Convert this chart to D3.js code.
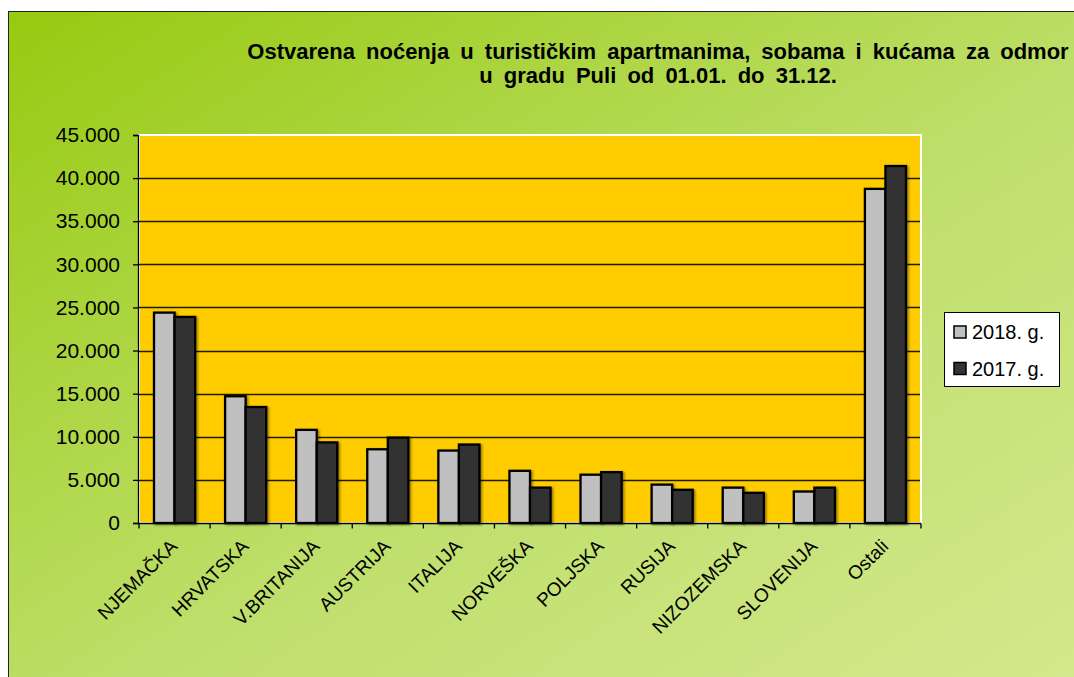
<!DOCTYPE html>
<html>
<head>
<meta charset="utf-8">
<script src="https://cdn.jsdelivr.net/npm/d3@7"></script>
<style>
  body { margin: 0; background: #fff; }
  text { font-family: "Liberation Sans", Arial, sans-serif; fill: #000; }
</style>
</head>
<body>
<div id="chart"></div>
<script>
const width = 1074;
const height = 677;

// data
const categories = ["NJEMAČKA", "HRVATSKA", "V.BRITANIJA", "AUSTRIJA", "ITALIJA", "NORVEŠKA",
  "POLJSKA", "RUSIJA", "NIZOZEMSKA", "SLOVENIJA", "Ostali"];
const series = ["2018. g.", "2017. g."];
const values2018 = [24400, 14700, 10800, 8550, 8400, 6050, 5600, 4450, 4100, 3650, 38750];
const values2017 = [23900, 13450, 9350, 9900, 9100, 4100, 5900, 3850, 3500, 4100, 41400];
const yTicks = [0, 5000, 10000, 15000, 20000, 25000, 30000, 35000, 40000, 45000];
const titleLines = ["Ostvarena noćenja u turističkim apartmanima, sobama i kućama za odmor",
  "u gradu Puli od 01.01. do 31.12."];

const colors = { "2018. g.": "#c0c0c0", "2017. g.": "#333333" };

const rows = categories.map((c, i) => ({ cat: c, "2018. g.": values2018[i], "2017. g.": values2017[i] }));

const locale = d3.formatLocale({ decimal: ",", thousands: ".", grouping: [3], currency: ["", ""] });
const fmt = locale.format(",d");

const svg = d3.select("#chart").append("svg")
  .attr("width", width)
  .attr("height", height);

const defs = svg.append("defs");
const grad = defs.append("linearGradient")
  .attr("id", "bg")
  .attr("x1", "0").attr("y1", "0").attr("x2", "1").attr("y2", "1");
grad.append("stop").attr("offset", "0%").attr("stop-color", "#97ca10");
grad.append("stop").attr("offset", "55%").attr("stop-color", "#bfdf6c");
grad.append("stop").attr("offset", "100%").attr("stop-color", "#d4e98e");

const shadow = defs.append("filter").attr("id", "shadow")
  .attr("x", "-20%").attr("y", "-5%").attr("width", "150%").attr("height", "120%");
shadow.append("feDropShadow")
  .attr("dx", 1.5).attr("dy", 1).attr("stdDeviation", 0.8)
  .attr("flood-color", "#000").attr("flood-opacity", 0.45);

// chart frame
svg.append("rect")
  .attr("x", 8.5).attr("y", 11.5)
  .attr("width", 1080).attr("height", 690)
  .attr("fill", "url(#bg)")
  .attr("stroke", "#222").attr("stroke-width", 1);

// title
svg.append("g").selectAll("text")
  .data(titleLines)
  .join("text")
  .attr("x", 658)
  .attr("y", (d, i) => 59 + i * 24)
  .attr("text-anchor", "middle")
  .style("font-size", "22px")
  .style("font-weight", "bold")
  .style("word-spacing", "5px")
  .text(d => d);

const plot = { left: 139, right: 921, top: 135, bottom: 523 };

const x0 = d3.scaleBand()
  .domain(categories)
  .range([plot.left, plot.right])
  .padding(0);

const x1 = d3.scaleBand()
  .domain(series)
  .range([0, x0.bandwidth()])
  .paddingInner(0)
  .paddingOuter(0.73);

const y = d3.scaleLinear()
  .domain([0, 45000])
  .range([plot.bottom, plot.top]);

// plot area
svg.append("rect")
  .attr("x", plot.left).attr("y", plot.top)
  .attr("width", plot.right - plot.left)
  .attr("height", plot.bottom - plot.top)
  .attr("fill", "#ffcc00")
  .attr("stroke", "#fff").attr("stroke-width", 2);

// gridlines
svg.append("g")
  .selectAll("line")
  .data(yTicks.filter(d => d > 0 && d < 45000))
  .join("line")
  .attr("x1", plot.left).attr("x2", plot.right - 1)
  .attr("y1", d => Math.round(y(d)) + 0.5)
  .attr("y2", d => Math.round(y(d)) + 0.5)
  .attr("stroke", "#1e1a00").attr("stroke-width", 1.3);

// bars
svg.append("g")
  .selectAll("g")
  .data(rows)
  .join("g")
  .attr("transform", d => `translate(${x0(d.cat)},0)`)
  .selectAll("rect")
  .data(d => series.map(s => ({ key: s, value: d[s] })))
  .join("rect")
  .attr("x", d => x1(d.key))
  .attr("y", d => y(d.value))
  .attr("width", x1.bandwidth())
  .attr("height", d => y(0) - y(d.value))
  .attr("fill", d => colors[d.key])
  .attr("stroke", "#000")
  .attr("stroke-width", 2.3)
  .attr("filter", "url(#shadow)");

// y axis
const yAxis = svg.append("g")
  .attr("transform", `translate(${plot.left - 1},0)`)
  .call(d3.axisLeft(y).tickValues(yTicks).tickFormat(fmt).tickSize(5).tickPadding(13));
yAxis.select(".domain").attr("stroke", "#000").attr("stroke-width", 1.3);
yAxis.selectAll(".tick line").attr("stroke", "#000").attr("stroke-width", 1.3);
yAxis.selectAll(".tick text")
  .style("font-size", "21px")
  .style("font-family", "'Liberation Sans', Arial, sans-serif")
  .attr("fill", "#000");

// x axis
const xAxis = svg.append("g")
  .attr("transform", `translate(0,${plot.bottom + 0.5})`);
xAxis.append("line")
  .attr("x1", plot.left - 1).attr("x2", plot.right)
  .attr("stroke", "#000").attr("stroke-width", 1.3);
xAxis.selectAll(".tk")
  .data(categories.map(c => x0(c)).concat([plot.right]))
  .join("line")
  .attr("class", "tk")
  .attr("x1", d => d).attr("x2", d => d)
  .attr("y1", 0).attr("y2", 5)
  .attr("stroke", "#000").attr("stroke-width", 1.3);
xAxis.selectAll("text")
  .data(categories)
  .join("text")
  .attr("transform", d => `translate(${x0(d) + x0.bandwidth() / 2 + 4},${24}) rotate(-45)`)
  .attr("text-anchor", "end")
  .style("font-size", "19px")
  .text(d => d);

// legend
const legend = svg.append("g").attr("transform", "translate(944,312)");
legend.append("rect")
  .attr("x", 0.5).attr("y", 0.5)
  .attr("width", 115).attr("height", 74)
  .attr("fill", "#fff").attr("stroke", "#000").attr("stroke-width", 1);
const li = legend.selectAll(".item")
  .data(series)
  .join("g")
  .attr("class", "item")
  .attr("transform", (d, i) => `translate(10,${14 + i * 36.5})`);
li.append("rect")
  .attr("width", 12).attr("height", 12)
  .attr("fill", d => colors[d])
  .attr("stroke", "#000").attr("stroke-width", 1.5);
li.append("text")
  .attr("x", 18).attr("y", 13)
  .style("font-size", "20px")
  .text(d => d);
</script>
</body>
</html>
